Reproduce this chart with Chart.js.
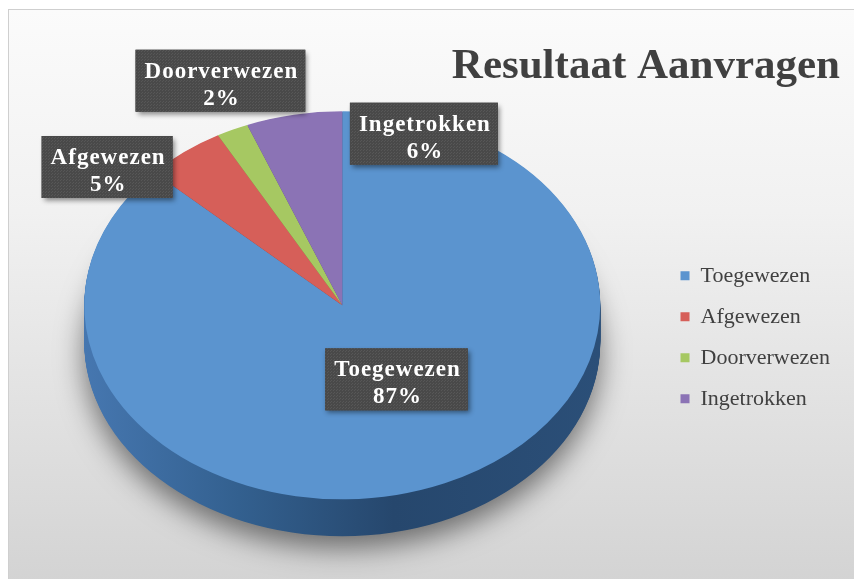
<!DOCTYPE html>
<html>
<head>
<meta charset="utf-8">
<script src="https://cdn.jsdelivr.net/npm/chart.js@4.4.1/dist/chart.umd.min.js"></script>
<style>
  html, body { margin: 0; padding: 0; background: #fff; }
  #wrap { position: relative; width: 854px; height: 579px; overflow: hidden; }
  #frame {
    position: absolute; left: 8px; top: 9px; width: 850px; height: 575px;
    border: 1px solid #cfcfcf;
    background: linear-gradient(#fbfbfb, #f1f1f1 35%, #d3d3d3);
  }
  canvas { position: absolute; left: 0; top: 0; }
</style>
</head>
<body>
<div id="wrap">
  <div id="frame"></div>
  <canvas id="myCanvas" width="854" height="579"></canvas>
</div>
<script>
const categories = ["Toegewezen", "Afgewezen", "Doorverwezen", "Ingetrokken"];
const percentages = [87, 5, 2, 6];
const sliceColors = ["#5b94cf", "#d65f59", "#a6c862", "#8b73b5"];
const sideColors = ["#2c5079", "#8e3a36", "#6a8a3a", "#5a4680"];
const chartTitle = "Resultaat Aanvragen";

// 3d look: squash the pie and put a dark rim under it
const tilt = 0.752;
const depth = 37;
const shiftY = -32;
// where each label box sits: [radius factor, dx, dy]
const labelPlace = [[0.5, 3, -15], [1, -77, 15], [1, -12, -49], [1, 130, 19]];

function centerY(chart) {
  return (chart.chartArea.top + chart.chartArea.bottom) / 2;
}

const pie3d = {
  id: "pie3d",
  beforeDatasetsDraw(chart) {
    const ctx = chart.ctx;
    const cy = centerY(chart);
    const arcs = chart.getDatasetMeta(0).data;
    ctx.save();
    ctx.translate(0, cy + shiftY);
    ctx.scale(1, tilt);
    ctx.translate(0, -cy);

    const a0 = arcs[0];
    const grad = ctx.createLinearGradient(a0.x - a0.outerRadius, 0, a0.x + a0.outerRadius, 0);
    grad.addColorStop(0, "#4677b0");
    grad.addColorStop(0.3, "#33608f");
    grad.addColorStop(0.6, "#26476d");
    grad.addColorStop(1, "#2b4f78");

    const steps = Math.round(depth / tilt);
    for (let d = steps; d >= 1; d--) {
      ctx.save();
      if (d === steps) {
        ctx.shadowColor = "rgba(0,0,0,0.5)";
        ctx.shadowBlur = 28;
        ctx.shadowOffsetY = 12;
      }
      arcs.forEach((arc, i) => {
        ctx.beginPath();
        ctx.moveTo(arc.x, arc.y + d);
        ctx.arc(arc.x, arc.y + d, arc.outerRadius, arc.startAngle, arc.endAngle);
        ctx.closePath();
        ctx.fillStyle = i === 0 ? grad : sideColors[i];
        ctx.fill();
      });
      ctx.restore();
    }
  },
  afterDatasetsDraw(chart) {
    const ctx = chart.ctx;
    ctx.restore();

    const cy = centerY(chart);
    const arcs = chart.getDatasetMeta(0).data;

    const pat = document.createElement("canvas");
    pat.width = 3; pat.height = 3;
    const pctx = pat.getContext("2d");
    pctx.fillStyle = "#494949";
    pctx.fillRect(0, 0, 3, 3);
    pctx.fillStyle = "#575757";
    pctx.fillRect(0, 0, 1, 1);
    pctx.fillRect(1, 2, 1, 1);
    const pattern = ctx.createPattern(pat, "repeat");

    arcs.forEach((arc, i) => {
      const mid = (arc.startAngle + arc.endAngle) / 2;
      const [f, dx, dy] = labelPlace[i];
      const px = arc.x + Math.cos(mid) * arc.outerRadius * f + dx;
      const py = cy + shiftY + (arc.y + Math.sin(mid) * arc.outerRadius * f - cy) * tilt + dy;

      const line1 = categories[i];
      const line2 = percentages[i] + "%";
      ctx.save();
      ctx.font = "bold 23px 'Liberation Serif', serif";
      ctx.letterSpacing = "1px";
      const w = Math.max(ctx.measureText(line1).width, ctx.measureText(line2).width) + 16;
      const h = 62;
      const x0 = px - w / 2, y0 = py - h / 2;

      ctx.shadowColor = "rgba(0,0,0,0.45)";
      ctx.shadowBlur = 5;
      ctx.shadowOffsetX = 2;
      ctx.shadowOffsetY = 3;
      ctx.fillStyle = "#4a4a4a";
      ctx.fillRect(x0, y0, w, h);
      ctx.shadowColor = "transparent";
      ctx.fillStyle = pattern;
      ctx.fillRect(x0, y0, w, h);

      ctx.fillStyle = "#ffffff";
      ctx.textAlign = "center";
      ctx.textBaseline = "alphabetic";
      ctx.fillText(line1, px + 1, y0 + 28);
      ctx.fillText(line2, px + 1, y0 + 55);
      ctx.restore();
    });
  }
};

const ctx = document.getElementById("myCanvas").getContext("2d");
new Chart(ctx, {
  type: "pie",
  data: {
    labels: categories,
    datasets: [{
      data: percentages,
      backgroundColor: sliceColors,
      borderWidth: 0,
      radius: 258,
      clip: false
    }]
  },
  options: {
    responsive: false,
    animation: false,
    events: [],
    layout: { padding: { left: 23, right: 14, top: 10, bottom: 9 } },
    plugins: {
      title: {
        display: true,
        text: chartTitle,
        align: "end",
        color: "#404040",
        font: { family: "'Liberation Serif', serif", size: 43, weight: "bold" },
        padding: { top: 31, bottom: 12 }
      },
      legend: {
        position: "right",
        fullSize: false,
        labels: {
          boxWidth: 9,
          boxHeight: 9,
          padding: 19,
          color: "#404040",
          font: { family: "'Liberation Serif', serif", size: 22 }
        }
      },
      tooltip: { enabled: false }
    }
  },
  plugins: [pie3d]
});
</script>
</body>
</html>
